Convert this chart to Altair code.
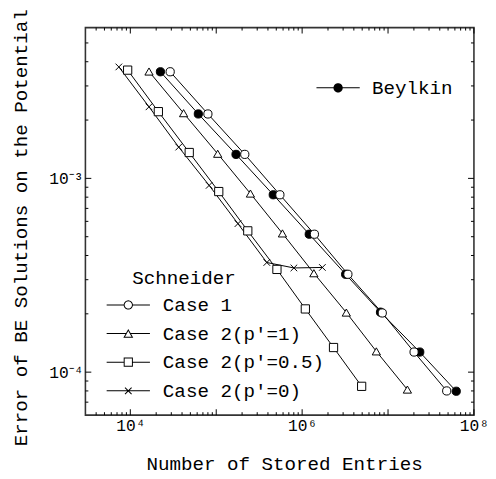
import math
import altair as alt
import pandas as pd

# ---------------- data ----------------
beylkin_x = [22400, 61900, 170000, 461000, 1.21e6, 3.21e6, 8.17e6, 2.34e7, 6.22e7]
beylkin_y = [3.55e-3, 2.15e-3, 1.33e-3, 8.23e-4, 5.15e-4, 3.2e-4, 2.04e-4, 1.27e-4, 7.97e-5]

case1_x = [29100, 80000, 215000, 551000, 1.39e6, 3.41e6, 8.57e6, 2.01e7, 4.82e7]
case1_y = [3.55e-3, 2.15e-3, 1.33e-3, 8.23e-4, 5.15e-4, 3.2e-4, 2.02e-4, 1.27e-4, 8.0e-5]

case2_p1_x = [16500, 41700, 104000, 250000, 590000, 1.37e6, 3.27e6, 7.31e6, 1.68e7]
case2_p1_y = [3.56e-3, 2.17e-3, 1.34e-3, 8.35e-4, 5.2e-4, 3.24e-4, 2.03e-4, 1.28e-4, 8.13e-5]

case2_p05_x = [9310, 21200, 48500, 107000, 233000, 509000, 1.09e6, 2.32e6, 4.93e6]
case2_p05_y = [3.62e-3, 2.21e-3, 1.36e-3, 8.55e-4, 5.36e-4, 3.39e-4, 2.12e-4, 1.34e-4, 8.45e-5]

case2_p0_x = [7350, 16500, 36600, 82700, 179000, 388000, 802000, 1.72e6]
case2_p0_y = [3.76e-3, 2.34e-3, 1.45e-3, 9.2e-4, 5.84e-4, 3.68e-4, 3.45e-4, 3.47e-4]

beylkin_name = "Beylkin"
schneider_title = "Schneider"
case_names = ["Case 1", "Case 2(p'=1)", "Case 2(p'=0.5)", "Case 2(p'=0)"]

x_label_values = [1e4, 1e6, 1e8]
x_tick_labels = ["10\u2074", "10\u2076", "10\u2078"]
y_label_values = [1e-4, 1e-3]
y_tick_labels = ["10\u207b\u2074", "10\u207b\u00b3"]

x_major_ticks = [1e4, 1e5, 1e6, 1e7, 1e8]
x_minor_ticks = [4e3, 5e3, 6e3, 7e3, 8e3, 9e3,
                 2e4, 3e4, 4e4, 5e4, 6e4, 7e4, 8e4, 9e4,
                 2e5, 3e5, 4e5, 5e5, 6e5, 7e5, 8e5, 9e5,
                 2e6, 3e6, 4e6, 5e6, 6e6, 7e6, 8e6, 9e6,
                 2e7, 3e7, 4e7, 5e7, 6e7, 7e7, 8e7, 9e7]
y_major_ticks = [1e-4, 1e-3]
y_minor_ticks = [7e-5, 8e-5, 9e-5,
                 2e-4, 3e-4, 4e-4, 5e-4, 6e-4, 7e-4, 8e-4, 9e-4,
                 2e-3, 3e-3, 4e-3, 5e-3]

x_title = "Number of Stored Entries"
y_title = "Error of BE Solutions on the Potential"

# ---------------- tables ----------------
rows = []
for name, xs, ys in [(beylkin_name, beylkin_x, beylkin_y),
                     (case_names[0], case1_x, case1_y),
                     (case_names[1], case2_p1_x, case2_p1_y),
                     (case_names[2], case2_p05_x, case2_p05_y),
                     (case_names[3], case2_p0_x, case2_p0_y)]:
    for xv, yv in zip(xs, ys):
        rows.append({"series": name, "x": xv, "y": yv})
df = pd.DataFrame(rows)
df_bey = df[df.series == beylkin_name]
df_sch = df[df.series != beylkin_name]

# ---------------- styling ----------------
FONT = "Liberation Mono"
W, H = 395, 394
xscale = alt.Scale(type="log", domain=[3000, 1e8], nice=False)
yscale = alt.Scale(type="log", domain=[6e-5, 6e-3], nice=False)
MAJOR, MINOR = 6, 3


def label_expr(values, labels):
    expr = "''"
    for v, l in zip(values, labels):
        expr = f"abs(datum.value/{v} - 1) < 1e-6 ? '{l}' : " + expr
    return expr


x_label_axis = alt.Axis(
    orient="bottom", values=x_label_values, labelExpr=label_expr(x_label_values, x_tick_labels),
    ticks=False, tickSize=0, domain=False, grid=False, labelFont=FONT, labelFontSize=16.5,
    labelColor="black", labelBaseline="alphabetic", labelPadding=15.6, labelFlush=False,
    labelOverlap=False, labelBound=False, title=x_title, titleFont=FONT, titleFontSize=19.5,
    titleFontWeight="normal", titleColor="black", titleX=202, titleY=55.7,
    titleBaseline="alphabetic", titleAlign="center")

y_label_axis = alt.Axis(
    orient="left", values=y_label_values, labelExpr=label_expr(y_label_values, y_tick_labels),
    ticks=False, tickSize=0, domain=False, grid=False, labelFont=FONT, labelFontSize=16.5,
    labelColor="black", labelPadding=2.5, labelFlush=False, labelOverlap=False,
    title=y_title, titleFont=FONT, titleFontSize=19.5, titleFontWeight="normal",
    titleColor="black", titleX=-60, titleY=203, titleAngle=270,
    titleBaseline="alphabetic", titleAlign="center")


# ---- legend glyphs built as filled outlines (1 unit = 1 px at symbolSize 4) ----
def _area(pts):
    return sum(pts[i][0] * pts[(i + 1) % len(pts)][1] - pts[(i + 1) % len(pts)][0] * pts[i][1]
               for i in range(len(pts)))


def poly(pts, hole=False):
    if (_area(pts) > 0) == hole:
        pts = pts[::-1]
    return "M" + "L".join(f"{x:.2f},{y:.2f}" for x, y in pts) + "Z"


def circle_pts(r, n=36):
    return [(r * math.cos(2 * math.pi * k / n), r * math.sin(2 * math.pi * k / n)) for k in range(n)]


def bar(x0, x1):
    return poly([(x0, -0.5), (x1, -0.5), (x1, 0.5), (x0, 0.5)])


def scale_about(pts, cx, cy, f):
    return [(cx + (x - cx) * f, cy + (y - cy) * f) for x, y in pts]


L, R = 22, 4.2
open_circle = poly(circle_pts(R + 0.5)) + poly(circle_pts(R - 0.5), hole=True)
filled_circle = poly(circle_pts(R + 0.5))
tr, th = 4.18, 3.62
tri = [(0, -th), (tr, th), (-tr, th)]
inr = 2 * tr / (2 * math.sqrt(3))
open_tri = poly(scale_about(tri, 0, th / 3, (inr + 0.5) / inr)) + \
    poly(scale_about(tri, 0, th / 3, (inr - 0.5) / inr), hole=True)
s = 4.18
open_sq = poly([(-s - .5, -s - .5), (s + .5, -s - .5), (s + .5, s + .5), (-s - .5, s + .5)]) + \
    poly([(-s + .5, -s + .5), (s - .5, -s + .5), (s - .5, s - .5), (-s + .5, s - .5)], hole=True)
c, d = 3.35, 0.354
x_glyph = poly([(-c + d, -c - d), (c + d, c - d), (c - d, c + d), (-c - d, -c + d)]) + \
    poly([(-c - d, c - d), (c - d, -c - d), (c + d, -c + d), (-c + d, c + d)])

bey_leg_path = bar(-L, -R) + bar(R, L) + filled_circle
sch_leg_paths = [
    bar(-L, -R) + bar(R, L) + open_circle,
    bar(-L, -2.4) + bar(2.4, L) + open_tri,
    bar(-L, -s) + bar(s, L) + open_sq,
    bar(-L, L) + x_glyph,
]
x_path = "M-0.8,-0.8L0.8,0.8M-0.8,0.8L0.8,-0.8"
sch_shapes = ["circle", "triangle-up", "square", x_path]

leg_common = dict(orient="none", direction="vertical", padding=0, labelFont=FONT,
                  labelFontSize=19.5, labelColor="black", labelLimit=0, symbolSize=4,
                  symbolStrokeWidth=0, symbolOpacity=1, symbolFillColor="black")

lines = alt.Chart(df).mark_line(color="black", strokeWidth=1).encode(
    x=alt.X("x:Q", scale=xscale, axis=x_label_axis),
    y=alt.Y("y:Q", scale=yscale, axis=y_label_axis),
    detail="series:N",
)

bey_pts = alt.Chart(df_bey).mark_point(shape="circle", filled=True, fill="black",
                                       stroke="black", strokeWidth=1, size=70, opacity=1).encode(
    x=alt.X("x:Q", scale=xscale, axis=None),
    y=alt.Y("y:Q", scale=yscale, axis=None),
)

sch_pts = alt.Chart(df_sch).mark_point(filled=True, fill="white", stroke="black",
                                       strokeWidth=1, size=70, opacity=1).encode(
    x=alt.X("x:Q", scale=xscale, axis=None),
    y=alt.Y("y:Q", scale=yscale, axis=None),
    shape=alt.Shape("series:N", scale=alt.Scale(domain=case_names, range=sch_shapes), legend=None),
)

leg_bey = alt.Chart(df_bey).mark_point(filled=True, fill="black", strokeWidth=0,
                                       size=4, opacity=0).encode(
    x=alt.X("x:Q", scale=xscale, axis=None),
    y=alt.Y("y:Q", scale=yscale, axis=None),
    shape=alt.Shape("series:N", scale=alt.Scale(domain=[beylkin_name], range=[bey_leg_path]),
                    legend=alt.Legend(title=None, legendX=240.85, legendY=51.5,
                                      symbolOffset=6.3, labelOffset=24.75, **leg_common)),
)

leg_sch = alt.Chart(df_sch).mark_point(filled=True, fill="black", strokeWidth=0,
                                       size=4, opacity=0).encode(
    x=alt.X("x:Q", scale=xscale, axis=None),
    y=alt.Y("y:Q", scale=yscale, axis=None),
    shape=alt.Shape("series:N", scale=alt.Scale(domain=case_names, range=sch_leg_paths),
                    legend=alt.Legend(title=schneider_title, titleFont=FONT, titleFontSize=19.5,
                                      titleFontWeight="normal", titleColor="black",
                                      titlePadding=7.45, legendX=47.5, legendY=245.3,
                                      symbolOffset=-13.65, labelOffset=25.4, rowPadding=8.1,
                                      **leg_common)),
)


# ---- inward tick marks along the frame (positions through the shared scales) ----
def x_ticks(values, y0, y1):
    return alt.Chart(pd.DataFrame({"x": values})).mark_rule(color="black", strokeWidth=1).encode(
        x=alt.X("x:Q", scale=xscale, axis=None), y=alt.value(y0), y2=alt.value(y1))


def y_ticks(values, x0, x1):
    return alt.Chart(pd.DataFrame({"y": values})).mark_rule(color="black", strokeWidth=1).encode(
        y=alt.Y("y:Q", scale=yscale, axis=None), x=alt.value(x0), x2=alt.value(x1))


tick_layers = [
    x_ticks(x_major_ticks, H, H - MAJOR), x_ticks(x_minor_ticks, H, H - MINOR),
    x_ticks(x_major_ticks, 0, MAJOR), x_ticks(x_minor_ticks, 0, MINOR),
    y_ticks(y_major_ticks, 0, MAJOR), y_ticks(y_minor_ticks, 0, MINOR),
    y_ticks(y_major_ticks, W, W - MAJOR), y_ticks(y_minor_ticks, W, W - MINOR),
]

chart = alt.layer(lines, *tick_layers, bey_pts, sch_pts, leg_bey, leg_sch).resolve_scale(
    shape="independent"
).resolve_axis(
    x="independent", y="independent"
).properties(
    width=W, height=H,
    padding={"left": 78.7, "top": 16, "right": 14.3, "bottom": 61},
    autosize=alt.AutoSizeParams(type="none"),
    background="white",
).configure_view(stroke="#333333", strokeWidth=1.6)

chart.save("out.html", embed_options={"renderer": "svg", "actions": False})
